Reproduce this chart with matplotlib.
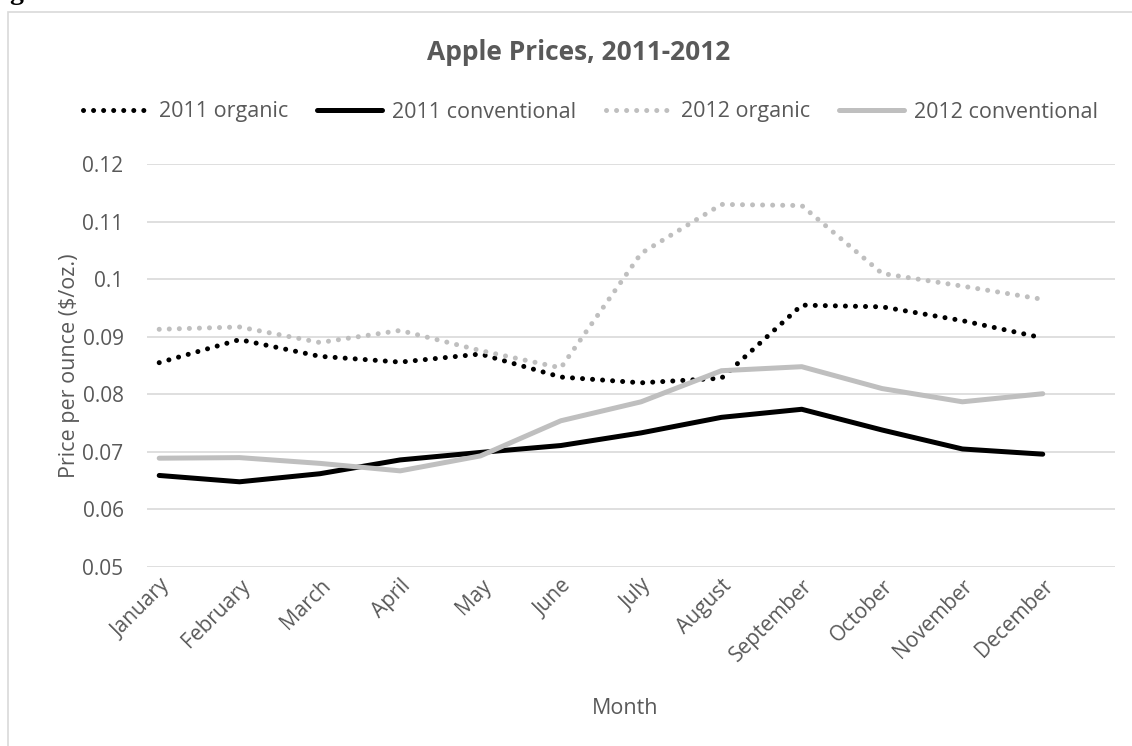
import matplotlib.pyplot as plt
from matplotlib.patches import Rectangle

plt.rcParams['font.family'] = ['Open Sans', 'DejaVu Sans']

months = ['January', 'February', 'March', 'April', 'May', 'June', 'July',
          'August', 'September', 'October', 'November', 'December']

organic_2011 = [0.0855, 0.0895, 0.0866, 0.0856, 0.0870, 0.0830,
                0.0820, 0.0828, 0.0955, 0.0952, 0.0928, 0.0898]
conventional_2011 = [0.0659, 0.0648, 0.0662, 0.0686, 0.0699, 0.0711,
                     0.0733, 0.0760, 0.0774, 0.0738, 0.0705, 0.0696]
organic_2012 = [0.0913, 0.0917, 0.0890, 0.0911, 0.0876, 0.0846,
                0.1045, 0.1130, 0.1128, 0.1010, 0.0988, 0.0965]
conventional_2012 = [0.0689, 0.0690, 0.0680, 0.0667, 0.0693, 0.0754,
                     0.0787, 0.0841, 0.0848, 0.0810, 0.0787, 0.0801]

yticks = [0.05, 0.06, 0.07, 0.08, 0.09, 0.1, 0.11, 0.12]
ytick_labels = ['0.05', '0.06', '0.07', '0.08', '0.09', '0.1', '0.11', '0.12']

text_col = '#595959'
grey = '#bfbfbf'

fig = plt.figure(figsize=(11.32, 7.46), dpi=100)
ax = fig.add_axes([0.130, 0.240, 0.855, 0.540])

# outer chart border (runs off the right and bottom of the image)
fig.patches.append(Rectangle((8 / 1132, -0.05), 1.2, 1 - 12 / 746 + 0.05,
                             transform=fig.transFigure, fill=False,
                             edgecolor='#d9d9d9', linewidth=1.2))
# stray letter from the page above, mostly cut off
fig.text(9 / 1132, 1.0 + 1 / 746, 'g', fontsize=20, fontweight='bold',
         color='black', va='baseline', family='Liberation Serif')

x = range(len(months))
dot = (0, (0.01, 2.0))
ax.plot(x, organic_2011, color='black', lw=3.6, linestyle=dot,
        dash_capstyle='round', label='2011 organic')
ax.plot(x, conventional_2011, color='black', lw=3.6,
        solid_capstyle='round', label='2011 conventional')
ax.plot(x, organic_2012, color=grey, lw=3.6, linestyle=dot,
        dash_capstyle='round', label='2012 organic')
ax.plot(x, conventional_2012, color=grey, lw=3.6,
        solid_capstyle='round', label='2012 conventional')

ax.set_ylim(0.05, 0.12)
ax.set_xlim(-0.15, 11.9)
ax.set_yticks(yticks)
ax.set_yticklabels(ytick_labels)
ax.set_xticks(list(x))
ax.set_xticklabels(months, rotation=45, ha='right', rotation_mode='anchor')
ax.tick_params(axis='both', length=0, labelsize=15, colors=text_col)
ax.tick_params(axis='y', pad=17)
ax.tick_params(axis='x', pad=6)
ax.grid(axis='y', color='#d9d9d9', lw=1.2)
ax.set_axisbelow(True)
for s in ax.spines.values():
    s.set_visible(False)

ax.set_ylabel('Price per ounce ($/oz.)', fontsize=15.5, color=text_col, labelpad=2)
fig.text(625 / 1132, 1 - 708 / 746, 'Month', fontsize=15.5, color=text_col,
         ha='center', va='center')
fig.text(579 / 1132, 1 - 52 / 746, 'Apple Prices, 2011-2012', fontsize=19,
         fontweight='bold', color=text_col, ha='center', va='center')

leg = fig.legend(loc='center', bbox_to_anchor=(0.522, 1 - 112 / 746), ncol=4,
                 frameon=False, fontsize=15.5, handlelength=3.0,
                 columnspacing=1.35, handletextpad=0.5)
for t in leg.get_texts():
    t.set_color(text_col)

fig.savefig('out.png', dpi=100)
